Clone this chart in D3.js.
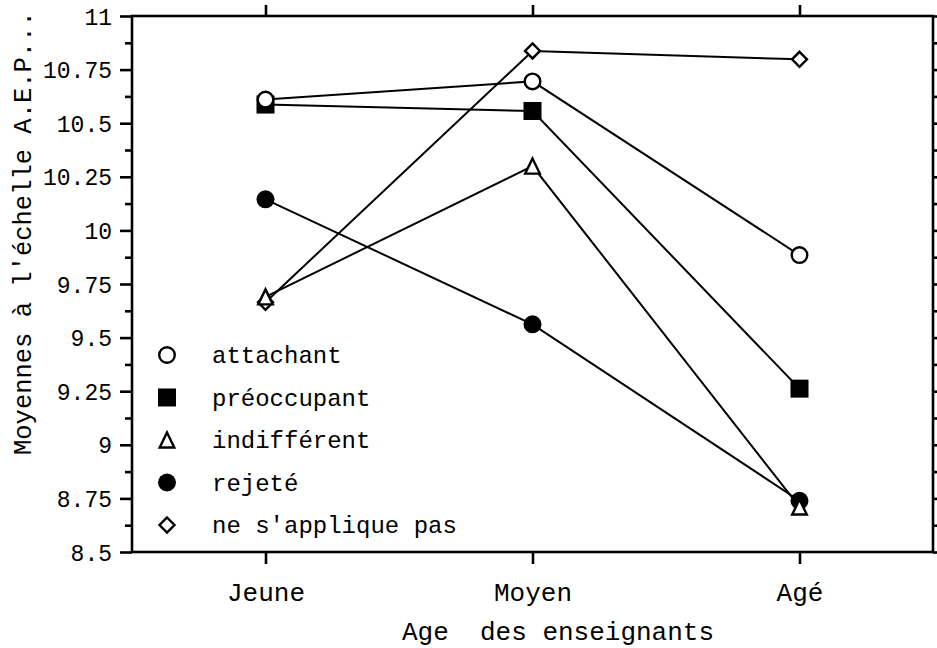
<!DOCTYPE html>
<html>
<head>
<meta charset="utf-8">
<script src="https://cdn.jsdelivr.net/npm/d3@7"></script>
<style>
  html, body { margin: 0; padding: 0; background: #fff; }
  svg { display: block; }
  text { font-family: "Liberation Mono", "DejaVu Sans Mono", monospace; fill: #000; }
</style>
</head>
<body>
<svg id="chart" width="937" height="648"></svg>
<script>
// Age groups of the teachers (x axis)
const categories = ["Jeune", "Moyen", "Agé"];

// Mean score on the A.E.P. scale for each attachment profile
const attachant   = [10.61, 10.695, 9.885];
const preoccupant = [10.587, 10.557, 9.262];
const indifferent = [9.69, 10.30, 8.71];
const rejete      = [10.145, 9.562, 8.739];
const nsapplique  = [9.665, 10.837, 10.798];

const seriesNames = ["attachant", "préoccupant", "indifférent", "rejeté", "ne s'applique pas"];
const seriesShapes = ["circleOpen", "squareFilled", "triangleOpen", "circleFilled", "diamondOpen"];
const seriesValues = [attachant, preoccupant, indifferent, rejete, nsapplique];

const yTicks = [8.5, 8.75, 9, 9.25, 9.5, 9.75, 10, 10.25, 10.5, 10.75, 11];
const yTickLabels = ["8.5", "8.75", "9", "9.25", "9.5", "9.75", "10", "10.25", "10.5", "10.75", "11"];
const yMinorTicks = [8.625, 8.875, 9.125, 9.375, 9.625, 9.875, 10.125, 10.375, 10.625, 10.875];

const xTitle = "Age  des enseignants";
const yTitle = "Moyennes à l'échelle A.E.P...";

const svg = d3.select("#chart");
const plot = { left: 132, right: 933, top: 16, bottom: 552 };

const x = d3.scalePoint().domain(categories).range([plot.left, plot.right]).padding(0.5);
const y = d3.scaleLinear().domain([8.5, 11]).range([plot.bottom, plot.top]);

const TICK_FONT = 23;
const LEGEND_FONT = 24;
const CAT_FONT = 26;
const TITLE_FONT = 25.5;
const AXW = 2.6;

// Marker drawing
function marker(g, shape, cx, cy) {
  const s = g.append("g").attr("transform", `translate(${cx},${cy})`);
  switch (shape) {
    case "circleOpen":
      s.append("circle").attr("r", 7.8).attr("fill", "#fff").attr("stroke", "#000").attr("stroke-width", 2.4);
      break;
    case "circleFilled":
      s.append("circle").attr("r", 9).attr("fill", "#000");
      break;
    case "squareFilled":
      s.append("rect").attr("x", -9).attr("y", -9).attr("width", 18).attr("height", 18).attr("fill", "#000");
      break;
    case "triangleOpen":
      s.append("path").attr("d", "M0,-7.5 L7.3,7.5 L-7.3,7.5 Z")
        .attr("fill", "#fff").attr("stroke", "#000").attr("stroke-width", 2.4).attr("stroke-linejoin", "miter");
      break;
    case "diamondOpen":
      s.append("path").attr("d", "M0,-7.5 L7.5,0 L0,7.5 L-7.5,0 Z")
        .attr("fill", "#fff").attr("stroke", "#000").attr("stroke-width", 2.4);
      break;
  }
}

// Lines
const line = d3.line().x((d, i) => x(categories[i])).y(d => y(d));
seriesValues.forEach(vals => {
  svg.append("path").datum(vals).attr("d", line)
    .attr("fill", "none").attr("stroke", "#000").attr("stroke-width", 2);
});

// Markers: draw in reverse legend order so earlier series sit on top
for (let k = seriesValues.length - 1; k >= 0; k--) {
  seriesValues[k].forEach((v, i) => marker(svg, seriesShapes[k], x(categories[i]), y(v)));
}

// Frame
svg.append("rect")
  .attr("x", plot.left).attr("y", plot.top)
  .attr("width", plot.right - plot.left).attr("height", plot.bottom - plot.top)
  .attr("fill", "none").attr("stroke", "#000").attr("stroke-width", AXW);

// Left axis
const leftAxis = d3.axisLeft(y).tickValues(yTicks).tickSize(12).tickPadding(8)
  .tickFormat((d, i) => yTickLabels[i]);
const gl = svg.append("g").attr("transform", `translate(${plot.left},0)`).call(leftAxis);
gl.select(".domain").remove();
gl.selectAll(".tick line").attr("stroke", "#000").attr("stroke-width", AXW);
gl.selectAll(".tick text").attr("font-size", TICK_FONT).attr("font-family", "Liberation Mono").attr("dy", "0.35em");
const glm = svg.append("g").attr("transform", `translate(${plot.left},0)`)
  .call(d3.axisLeft(y).tickValues(yMinorTicks).tickSize(7).tickFormat(""));
glm.select(".domain").remove();
glm.selectAll(".tick line").attr("stroke", "#000").attr("stroke-width", AXW);

// Right axis
const gr = svg.append("g").attr("transform", `translate(${plot.right},0)`)
  .call(d3.axisRight(y).tickValues(yTicks).tickSize(12).tickFormat(""));
gr.select(".domain").remove();
gr.selectAll(".tick line").attr("stroke", "#000").attr("stroke-width", AXW);
const grm = svg.append("g").attr("transform", `translate(${plot.right},0)`)
  .call(d3.axisRight(y).tickValues(yMinorTicks).tickSize(7).tickFormat(""));
grm.select(".domain").remove();
grm.selectAll(".tick line").attr("stroke", "#000").attr("stroke-width", AXW);

// Bottom axis
const gb = svg.append("g").attr("transform", `translate(0,${plot.bottom})`)
  .call(d3.axisBottom(x).tickSize(12).tickPadding(19));
gb.select(".domain").remove();
gb.selectAll(".tick line").attr("stroke", "#000").attr("stroke-width", AXW);
gb.selectAll(".tick text").attr("font-size", CAT_FONT).attr("font-family", "Liberation Mono");

// Top axis
const gt = svg.append("g").attr("transform", `translate(0,${plot.top})`)
  .call(d3.axisTop(x).tickSize(11).tickFormat(""));
gt.select(".domain").remove();
gt.selectAll(".tick line").attr("stroke", "#000").attr("stroke-width", AXW);

// Axis titles
svg.append("text").attr("x", 558).attr("y", 640)
  .attr("text-anchor", "middle").attr("font-size", 26)
  .attr("xml:space", "preserve").style("white-space", "pre").text(xTitle);
svg.append("text")
  .attr("transform", `translate(31,455) rotate(-90)`)
  .attr("text-anchor", "start").attr("font-size", TITLE_FONT)
  .text(yTitle);

// Legend
const legendX = 167, legendY0 = 355, legendStep = 42.5;
seriesNames.forEach((name, k) => {
  const ly = legendY0 + k * legendStep;
  marker(svg, seriesShapes[k], legendX, ly);
  svg.append("text").attr("x", 212).attr("y", ly).attr("dy", "0.35em")
    .attr("font-size", LEGEND_FONT).text(name);
});
</script>
</body>
</html>
